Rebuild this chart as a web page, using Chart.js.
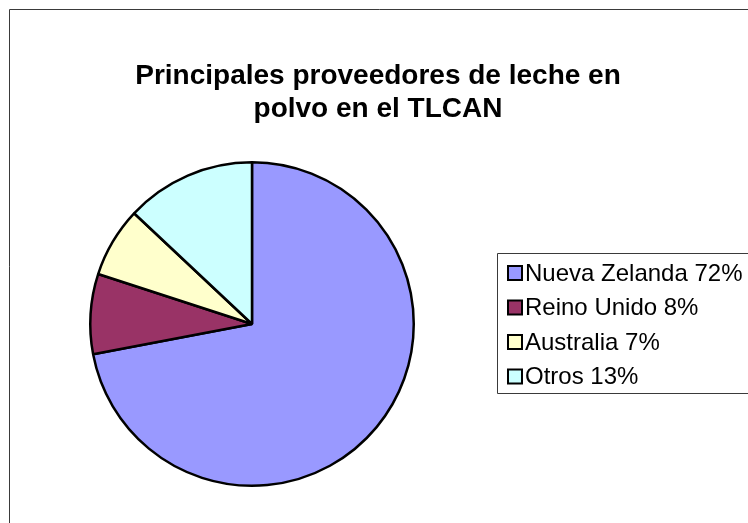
<!DOCTYPE html>
<html>
<head>
<meta charset="utf-8">
<script src="https://cdn.jsdelivr.net/npm/chart.js@4/dist/chart.umd.min.js"></script>
<style>
  html, body { margin: 0; padding: 0; background: #fff; }
  #wrap { width: 748px; height: 523px; position: relative; }
</style>
</head>
<body>
<div id="wrap"><canvas id="c" width="748" height="523"></canvas></div>
<script>
const titleLines = ["Principales proveedores de leche en", "polvo en el TLCAN"];
const categories = ["Nueva Zelanda", "Reino Unido", "Australia", "Otros"];
const shares = [72, 8, 7, 13];
const colors = ["#9999FF", "#993366", "#FFFFCC", "#CCFFFF"];

const FONT = '"Liberation Sans", Arial, sans-serif';

const decor = {
  id: 'decor',
  afterDraw(chart) {
    const ctx = chart.ctx;
    ctx.save();
    // outer frame (left + top)
    ctx.strokeStyle = '#3a3a3a';
    ctx.lineWidth = 1;
    ctx.beginPath();
    ctx.moveTo(9.5, 530); ctx.lineTo(9.5, 9.5); ctx.lineTo(760, 9.5);
    ctx.stroke();

    // title
    ctx.fillStyle = '#000';
    ctx.font = 'bold 28px ' + FONT;
    ctx.textAlign = 'center';
    ctx.textBaseline = 'middle';
    titleLines.forEach((t, i) => ctx.fillText(t, 378, 76 + i * 33));

    // legend box
    ctx.strokeStyle = '#3a3a3a';
    ctx.lineWidth = 1;
    ctx.beginPath();
    ctx.moveTo(760, 253.5); ctx.lineTo(497.5, 253.5); ctx.lineTo(497.5, 393.5); ctx.lineTo(760, 393.5);
    ctx.stroke();

    // legend items
    const ds = chart.data.datasets[0];
    ctx.font = '24px ' + FONT;
    ctx.textAlign = 'left';
    chart.data.labels.forEach((lab, i) => {
      const y = 273 + i * 34.5;
      ctx.fillStyle = ds.backgroundColor[i];
      ctx.fillRect(508, y - 7, 14, 14);
      ctx.strokeStyle = '#000';
      ctx.lineWidth = 2;
      ctx.strokeRect(508, y - 7, 14, 14);
      ctx.fillStyle = '#000';
      ctx.fillText(lab + ' ' + ds.data[i] + '%', 525, y + 1);
    });
    ctx.restore();
  }
};

new Chart(document.getElementById('c'), {
  type: 'pie',
  data: {
    labels: categories,
    datasets: [{
      data: shares,
      backgroundColor: colors,
      borderColor: '#000',
      borderWidth: 2.5,
      hoverOffset: 0
    }]
  },
  options: {
    responsive: false,
    devicePixelRatio: 1,
    animation: false,
    layout: { padding: { left: 89, right: 333, top: 161, bottom: 36 } },
    plugins: {
      legend: { display: false },
      title: { display: false },
      tooltip: { enabled: false }
    }
  },
  plugins: [decor]
});
</script>
</body>
</html>
